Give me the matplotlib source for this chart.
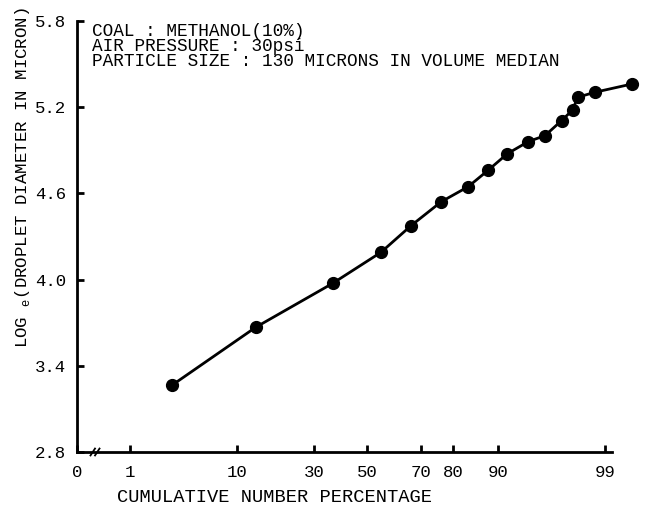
import numpy as np
import matplotlib
matplotlib.use("Agg")
import matplotlib.pyplot as plt
from statistics import NormalDist

plt.rcParams['font.family'] = ['Liberation Mono', 'DejaVu Sans Mono']
plt.rcParams['mathtext.fontset'] = 'custom'
plt.rcParams['mathtext.rm'] = 'Liberation Mono'

# Data (cumulative number percentage, log_e droplet diameter)
cum_pct = [2.78, 13.65, 36.65, 55.27, 66.51, 76.53, 83.84, 88.22, 91.48,
           94.27, 95.91, 97.15, 97.79, 98.03, 98.71, 99.52]
log_d = [3.266, 3.668, 3.974, 4.190, 4.375, 4.542, 4.647, 4.763, 4.876,
         4.961, 5.002, 5.107, 5.181, 5.269, 5.304, 5.361]

x_ticks = [1, 10, 30, 50, 70, 80, 90, 99]
x_ticklabels = ['1', '10', '30', '50', '70', '80', '90', '99']
y_ticks = [2.8, 3.4, 4.0, 4.6, 5.2, 5.8]
y_ticklabels = ['2.8', '3.4', '4.0', '4.6', '5.2', '5.8']
notes = ['COAL : METHANOL(10%)', 'AIR PRESSURE : 30psi',
         'PARTICLE SIZE : 130 MICRONS IN VOLUME MEDIAN']

ND = NormalDist()
_ppf = np.vectorize(ND.inv_cdf, otypes=[float])
_cdf = np.vectorize(ND.cdf, otypes=[float])


def fwd(p):
    p = np.asarray(p, dtype=float)
    q = np.clip(p / 100.0, 1e-12, 1 - 1e-12)
    return _ppf(q)


def inv(z):
    z = np.asarray(z, dtype=float)
    return 100.0 * _cdf(z)


fig = plt.figure(figsize=(6.48, 5.11), dpi=100)
ax = fig.add_axes([77 / 648, 59 / 511, 563 / 648, 431 / 511])
ax.set_xscale('function', functions=(fwd, inv))

ax.plot(cum_pct, log_d, color='black', lw=2.0, marker='o', ms=8.5,
        clip_on=False, zorder=3)

xmin = float(inv(-2.848))
xmax = float(inv(2.672))
ax.set_xlim(xmin, xmax)
ax.set_ylim(2.8, 5.8)

ax.set_xticks([xmin] + x_ticks)
ax.set_xticklabels(['0'] + x_ticklabels)
ax.xaxis.set_minor_locator(matplotlib.ticker.NullLocator())
ax.set_yticks(y_ticks)
ax.set_yticklabels(y_ticklabels)

for s in ['top', 'right']:
    ax.spines[s].set_visible(False)
for s in ['left', 'bottom']:
    ax.spines[s].set_linewidth(2.0)
ax.spines['bottom'].set_bounds(xmin, float(inv(2.397)))

ax.tick_params(axis='both', direction='in', width=2.0, length=5,
               labelsize=12.5, colors='black')
ax.tick_params(axis='x', pad=9)
ax.tick_params(axis='y', pad=8)

# axis break marks
for dx in (0.028, 0.036):
    ax.plot([dx - 0.004, dx + 0.004], [-0.008, 0.008], transform=ax.transAxes,
            color='black', lw=1.3, clip_on=False)

ax.set_xlabel('CUMULATIVE NUMBER PERCENTAGE', fontsize=13.5)
ax.xaxis.set_label_coords(0.35, -0.085)
ax.set_ylabel(r'LOG $_{\mathregular{e}}$(DROPLET DIAMETER IN MICRON)', fontsize=12.5)
ax.yaxis.set_label_coords(-0.080, 0.636)

for i, t in enumerate(notes):
    ax.text(92 / 648, 1 - (32 + 14.5 * i) / 511, t, transform=fig.transFigure,
            fontsize=12.8, va='center', ha='left')

fig.savefig('out.png', dpi=100)
